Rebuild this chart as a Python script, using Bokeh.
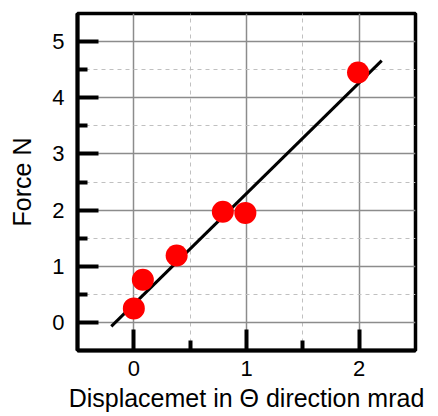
from bokeh.plotting import figure
from bokeh.models import FixedTicker, Range1d
from bokeh.embed import file_html
from bokeh.resources import INLINE

# Data
disp_x = [0.0, 0.08, 0.38, 0.79, 0.99, 1.99]
force_y = [0.25, 0.76, 1.19, 1.97, 1.95, 4.45]
fit_x = [-0.2, 2.2]
fit_y = [-0.07, 4.66]
x_major = [0, 1, 2]
x_minor = [0.5, 1.5]
y_major = [0, 1, 2, 3, 4, 5]
y_minor = [0.5, 1.5, 2.5, 3.5, 4.5]

FONT = "Liberation Sans"

p = figure(width=438, height=416, output_backend="svg", toolbar_location=None,
           x_range=Range1d(-0.5, 2.5), y_range=Range1d(-0.5, 5.5),
           min_border_left=77, min_border_right=23, min_border_top=13, min_border_bottom=66)
p.background_fill_color = "white"
p.border_fill_color = "white"
p.outline_line_color = "black"
p.outline_line_width = 3.5

p.xaxis.ticker = FixedTicker(ticks=x_major, minor_ticks=x_minor)
p.yaxis.ticker = FixedTicker(ticks=y_major, minor_ticks=y_minor)

for ax in (p.xaxis, p.yaxis):
    ax.axis_line_width = 4
    ax.axis_line_color = "black"
    ax.major_tick_in = 21
    ax.major_tick_out = 0
    ax.minor_tick_in = 10
    ax.minor_tick_out = 0
    ax.major_tick_line_width = 4
    ax.minor_tick_line_width = 4
    ax.major_tick_line_color = "black"
    ax.minor_tick_line_color = "black"
    ax.major_label_text_font = FONT
    ax.major_label_text_font_size = "22px"
    ax.major_label_text_color = "black"
    ax.axis_label_text_font = FONT
    ax.axis_label_text_font_size = "25px"
    ax.axis_label_text_font_style = "normal"
    ax.axis_label_text_color = "black"

p.xaxis.axis_label = "Displacemet in \u0398 direction mrad"
p.yaxis.axis_label = "Force N"
p.xaxis.major_label_standoff = 10
p.xaxis.axis_label_standoff = 5
p.yaxis.major_label_standoff = 13
p.yaxis.axis_label_standoff = 13

for g in (p.xgrid, p.ygrid):
    g.grid_line_color = "#8c8c8c"
    g.grid_line_width = 1.5
    g.minor_grid_line_color = "#c0c0c0"
    g.minor_grid_line_width = 1
    g.minor_grid_line_dash = "4 4"

p.line(fit_x, fit_y, line_color="black", line_width=3)
p.scatter(disp_x, force_y, size=22, fill_color="#ff0000", line_color=None)

open("out.html", "w").write(file_html(p, INLINE))
